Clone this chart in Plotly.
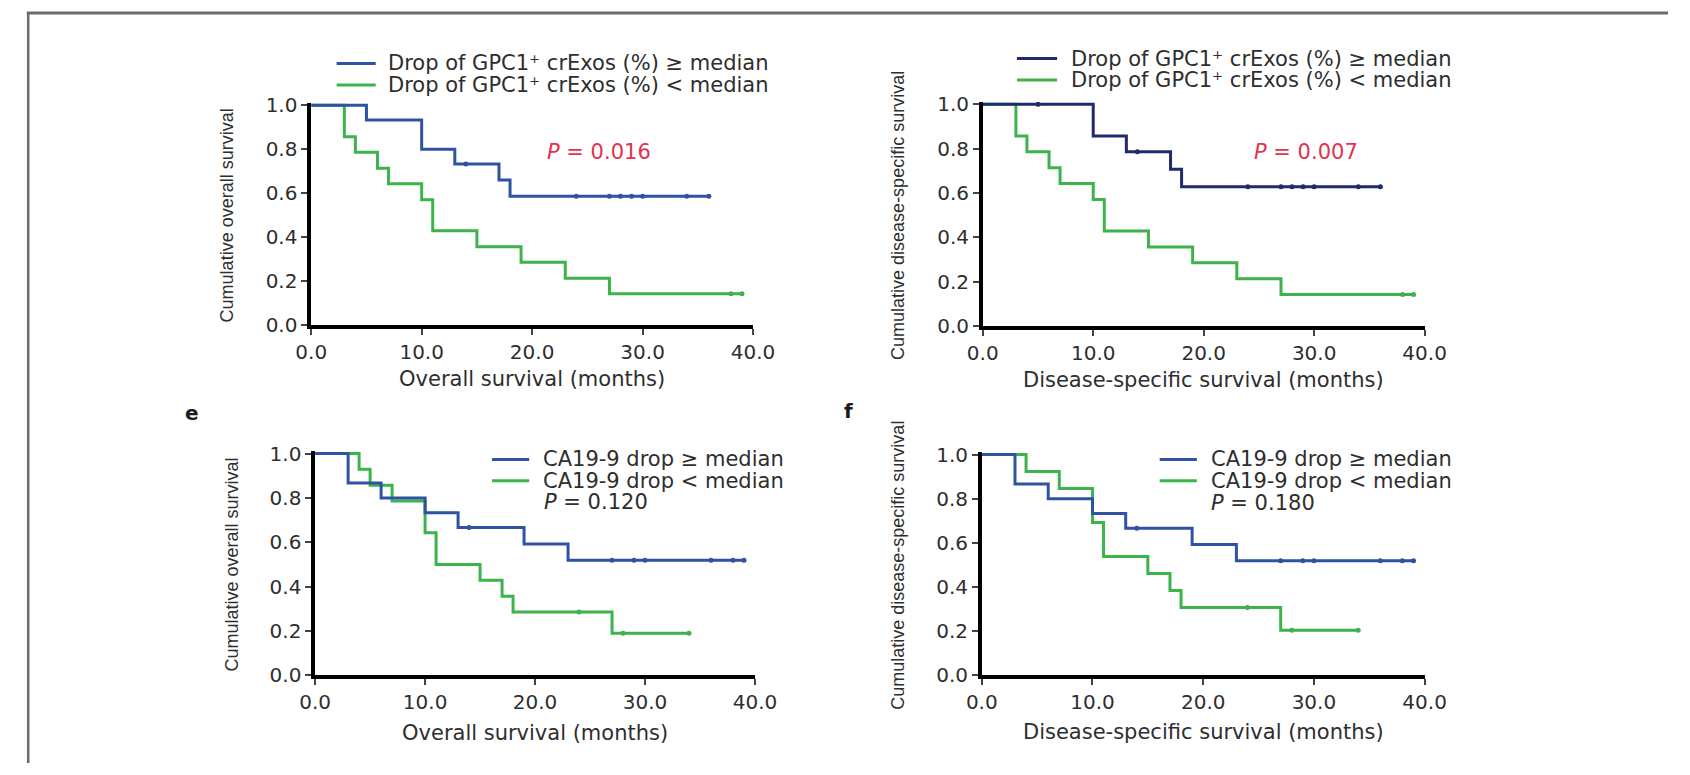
import plotly.graph_objects as go

W, H = 1690, 775

# ---- Kaplan-Meier estimates: event times (months), survival after each event, censored times ----
# GPC1+ crExos drop, overall survival
gpc_os_hi_t = [5, 10, 13, 17, 18]
gpc_os_hi_s = [0.933, 0.800, 0.733, 0.660, 0.587]
gpc_os_hi_c = [14, 24, 27, 28, 29, 30, 34, 36]
gpc_os_lo_t = [3, 4, 6, 7, 10, 11, 15, 19, 23, 27]
gpc_os_lo_s = [0.857, 0.786, 0.714, 0.643, 0.571, 0.429, 0.357, 0.286, 0.214, 0.143]
gpc_os_lo_c = [38, 39]

# GPC1+ crExos drop, disease-specific survival
gpc_dss_hi_t = [10, 13, 17, 18]
gpc_dss_hi_s = [0.857, 0.786, 0.707, 0.629]
gpc_dss_hi_c = [5, 14, 24, 27, 28, 29, 30, 34, 36]
gpc_dss_lo_t = [3, 4, 6, 7, 10, 11, 15, 19, 23, 27]
gpc_dss_lo_s = [0.857, 0.786, 0.714, 0.643, 0.571, 0.429, 0.357, 0.286, 0.214, 0.143]
gpc_dss_lo_c = [38, 39]

# CA19-9 drop, overall survival
ca_os_hi_t = [3, 6, 10, 13, 19, 23]
ca_os_hi_s = [0.867, 0.800, 0.733, 0.667, 0.593, 0.519]
ca_os_hi_c = [14, 27, 29, 30, 36, 38, 39]
ca_os_lo_t = [4, 5, 7, 10, 11, 15, 17, 18, 27]
ca_os_lo_s = [0.929, 0.857, 0.786, 0.643, 0.500, 0.429, 0.357, 0.286, 0.190]
ca_os_lo_c = [24, 28, 34]

# CA19-9 drop, disease-specific survival
ca_dss_hi_t = [3, 6, 10, 13, 19, 23]
ca_dss_hi_s = [0.867, 0.800, 0.733, 0.667, 0.593, 0.519]
ca_dss_hi_c = [14, 27, 29, 30, 36, 38, 39]
ca_dss_lo_t = [4, 7, 10, 11, 15, 17, 18, 27]
ca_dss_lo_s = [0.923, 0.846, 0.692, 0.538, 0.462, 0.385, 0.308, 0.205]
ca_dss_lo_c = [24, 28, 34]

x_ticks = [0, 10, 20, 30, 40]
y_ticks = [0.0, 0.2, 0.4, 0.6, 0.8, 1.0]

gpc_labels = ["Drop of GPC1\u207a crExos (%) \u2265 median",
              "Drop of GPC1\u207a crExos (%) < median"]
ca_labels = ["CA19-9 drop \u2265 median", "CA19-9 drop < median"]
p_values = ["0.016", "0.007", "0.120", "0.180"]
x_titles = ["Overall survival (months)", "Disease-specific survival (months)",
            "Overall survival (months)", "Disease-specific survival (months)"]
y_titles = ["Cumulative overall survival", "Cumulative disease-specific survival",
            "Cumulative overall survival", "Cumulative disease-specific survival"]

BLUE = "#2f52a2"
NAVY = "#1f2b6c"
GREEN = "#3cb34b"
RED = "#e2324f"
TEXT = "#2e2e2e"
FONT = "DejaVu Sans"
YFONT = "Liberation Sans, Arial"

# panel layout in page pixels: x of 0 and 40 months, y of 0 and 1.0
panels = [
    dict(x0=302, x40=754, y0=325, y1=99),
    dict(x0=989, x40=1441, y0=326, y1=98),
    dict(x0=306, x40=756, y0=685, y1=457),
    dict(x0=988, x40=1441, y0=685, y1=458),
]
Y_TOP = 1.012  # small headroom so the 1.0 plateau is not clipped


def px(x):
    return x / W


def py(y):
    return 1 - y / H


def km_path(times, surv, censors):
    end = max(list(times) + list(censors))
    return [0] + list(times) + [end], [1.0] + list(surv) + [surv[-1]]


def surv_at(t, times, surv):
    s = 1.0
    for ti, si in zip(times, surv):
        if ti <= t:
            s = si
    return s


curves = [
    [(gpc_os_hi_t, gpc_os_hi_s, gpc_os_hi_c, BLUE), (gpc_os_lo_t, gpc_os_lo_s, gpc_os_lo_c, GREEN)],
    [(gpc_dss_hi_t, gpc_dss_hi_s, gpc_dss_hi_c, NAVY), (gpc_dss_lo_t, gpc_dss_lo_s, gpc_dss_lo_c, GREEN)],
    [(ca_os_hi_t, ca_os_hi_s, ca_os_hi_c, BLUE), (ca_os_lo_t, ca_os_lo_s, ca_os_lo_c, GREEN)],
    [(ca_dss_hi_t, ca_dss_hi_s, ca_dss_hi_c, BLUE), (ca_dss_lo_t, ca_dss_lo_s, ca_dss_lo_c, GREEN)],
]

fig = go.Figure()
layout = dict(
    width=W, height=H, autosize=False,
    margin=dict(l=0, r=0, t=0, b=0),
    paper_bgcolor="white", plot_bgcolor="white",
    showlegend=False,
)

for i, (p, pair) in enumerate(zip(panels, curves), start=1):
    xa = "x" if i == 1 else f"x{i}"
    ya = "y" if i == 1 else f"y{i}"
    # draw the low group first so the high group sits on top
    for times, surv, cens, color in reversed(pair):
        xs, ys = km_path(times, surv, cens)
        fig.add_trace(go.Scatter(x=xs, y=ys, mode="lines", line_shape="hv",
                                 line=dict(color=color, width=3),
                                 xaxis=xa, yaxis=ya, hoverinfo="skip"))
        fig.add_trace(go.Scatter(x=cens, y=[surv_at(c, times, surv) for c in cens],
                                 mode="markers",
                                 marker=dict(symbol="circle", size=5, color=color),
                                 xaxis=xa, yaxis=ya, hoverinfo="skip"))

    y_top_px = p["y0"] - (p["y0"] - p["y1"]) * Y_TOP
    axis_common = dict(showline=True, linecolor="black", linewidth=3.5,
                       ticks="outside", ticklen=6, tickwidth=1.5, tickcolor="#444",
                       showgrid=False, zeroline=False,
                       tickfont=dict(family=FONT, size=20, color=TEXT))
    layout["xaxis" if i == 1 else f"xaxis{i}"] = dict(
        domain=[px(p["x0"]), px(p["x40"])], range=[0, 40],
        tickvals=x_ticks, tickformat=".1f", anchor=ya, **axis_common)
    layout["yaxis" if i == 1 else f"yaxis{i}"] = dict(
        domain=[py(p["y0"]), py(y_top_px)], range=[0, Y_TOP],
        tickvals=y_ticks, tickformat=".1f", anchor=xa, **axis_common)

annotations = []
shapes = []


def text(x, y, s, size=21, color=TEXT, xanchor="left", family=FONT, angle=0,
         weight="normal"):
    annotations.append(dict(x=px(x), y=py(y), xref="paper", yref="paper", text=s,
                            showarrow=False, xanchor=xanchor, yanchor="middle",
                            textangle=angle,
                            font=dict(family=family, size=size, color=color,
                                      weight=weight)))


def legend_line(xa, xb, y, color):
    shapes.append(dict(type="line", xref="paper", yref="paper",
                       x0=px(xa), x1=px(xb), y0=py(y), y1=py(y),
                       line=dict(color=color, width=3)))


# legends
legend_pos = [
    dict(la=328, lb=368, tx=378, rows=(56, 78), labels=gpc_labels, hi=BLUE),
    dict(la=1024, lb=1065, tx=1077, rows=(51, 73), labels=gpc_labels, hi=NAVY),
    dict(la=487, lb=525, tx=537, rows=(463, 485), labels=ca_labels, hi=BLUE),
    dict(la=1170, lb=1208, tx=1220, rows=(463, 485), labels=ca_labels, hi=BLUE),
]
for lg in legend_pos:
    for row_y, label, color in zip(lg["rows"], lg["labels"], (lg["hi"], GREEN)):
        legend_line(lg["la"], lg["lb"], row_y, color)
        text(lg["tx"], row_y, label)

# P values
text(596, 147, f"<i>P</i> = {p_values[0]}", color=RED, xanchor="center")
text(1320, 147, f"<i>P</i> = {p_values[1]}", color=RED, xanchor="center")
text(538, 507, f"<i>P</i> = {p_values[2]}")
text(1220, 508, f"<i>P</i> = {p_values[3]}")

# axis titles
x_title_y = [380, 381, 744, 743]
for p, t, ty in zip(panels, x_titles, x_title_y):
    text((p["x0"] + p["x40"]) / 2, ty, t, xanchor="center")
for p, t in zip(panels, y_titles):
    text(p["x0"] - 86, (p["y0"] + p["y1"]) / 2, t, size=18, family=YFONT,
         xanchor="center", angle=-90)

# panel letters
text(180, 415, "e", size=20, color="#1a1a1a", xanchor="center", weight="bold")
text(852, 413, "f", size=20, color="#1a1a1a", xanchor="center", weight="bold")

# figure frame
shapes.append(dict(type="line", xref="paper", yref="paper", x0=px(11), x1=1,
                   y0=py(4), y1=py(4), line=dict(color="#6b6b6b", width=3)))
shapes.append(dict(type="line", xref="paper", yref="paper", x0=px(12.5), x1=px(12.5),
                   y0=py(4), y1=0, line=dict(color="#6b6b6b", width=2.5)))

layout["annotations"] = annotations
layout["shapes"] = shapes
fig.update_layout(**layout)

fig.write_html("out.html")
